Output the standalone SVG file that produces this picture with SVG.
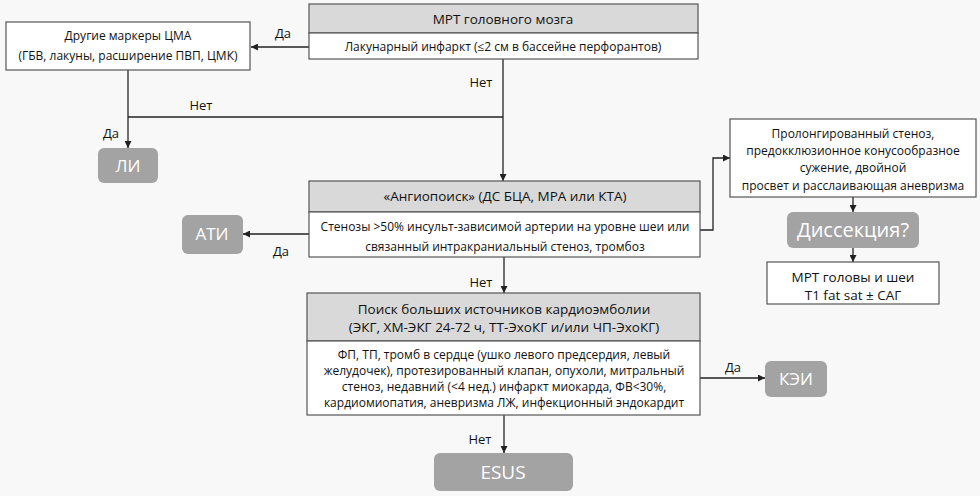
<svg xmlns="http://www.w3.org/2000/svg" width="980" height="496" viewBox="0 0 980 496">
<defs>
<marker id="ah" viewBox="0 0 10 10" refX="10" refY="5" markerWidth="7" markerHeight="7" markerUnits="userSpaceOnUse" orient="auto"><path d="M0,0 L10,5 L0,10 Z" fill="#222"/></marker>
<style>
.bx{fill:#fff;stroke:#555;stroke-width:1.2}
.hd{fill:#d9d9d9;stroke:#555;stroke-width:1.2}
.rs{fill:#a3a3a3;stroke:none}
.t{font-family:"Open Sans","Liberation Sans",sans-serif;font-size:12px;fill:#111;text-anchor:middle}
.th{font-family:"Open Sans","Liberation Sans",sans-serif;font-size:13.5px;fill:#111;text-anchor:middle}
.tr{font-family:"Open Sans","Liberation Sans",sans-serif;font-size:17px;fill:#fff;text-anchor:middle}
.lb{font-family:"Open Sans","Liberation Sans",sans-serif;font-size:13px;fill:#111;text-anchor:middle}
.ln{fill:none;stroke:#222;stroke-width:1.3}
</style>
</defs>
<rect width="980" height="496" fill="#f8f8f8"/>
<g id="connectors">
<path class="ln" d="M309,47 H251" marker-end="url(#ah)"/>
<path class="ln" d="M503,59 V181" marker-end="url(#ah)"/>
<path class="ln" d="M128,117 H503"/>
<path class="ln" d="M128,70 V148" marker-end="url(#ah)"/>
<path class="ln" d="M309,234 H243" marker-end="url(#ah)"/>
<path class="ln" d="M700,230 H713 V158 H730" marker-end="url(#ah)"/>
<path class="ln" d="M853,197 V212" marker-end="url(#ah)"/>
<path class="ln" d="M853,248 V262" marker-end="url(#ah)"/>
<path class="ln" d="M504,257 V293" marker-end="url(#ah)"/>
<path class="ln" d="M504,415 V453" marker-end="url(#ah)"/>
<path class="ln" d="M700,378 H765" marker-end="url(#ah)"/>
<text class="lb" x="283" y="38">Да</text>
<text class="lb" x="481" y="87">Нет</text>
<text class="lb" x="201" y="110">Нет</text>
<text class="lb" x="111" y="138">Да</text>
<text class="lb" x="281" y="256">Да</text>
<text class="lb" x="481" y="287">Нет</text>
<text class="lb" x="480" y="444">Нет</text>
<text class="lb" x="733" y="372">Да</text>
</g>
<g id="mri">
<rect class="hd" x="309" y="4" width="389" height="29"/>
<rect class="bx" x="309" y="33" width="389" height="26"/>
<text class="th" x="503" y="24">МРТ головного мозга</text>
<text class="t" x="503" y="51">Лакунарный инфаркт (≤2 см в бассейне перфорантов)</text>
</g>
<g id="markers">
<rect class="bx" x="6" y="22" width="244" height="48"/>
<text class="t" x="128" y="40">Другие маркеры ЦМА</text>
<text class="t" x="128" y="60">(ГБВ, лакуны, расширение ПВП, ЦМК)</text>
</g>
<g id="li">
<rect class="rs" x="98" y="148" width="60" height="35" rx="6"/>
<text class="tr" x="128" y="172">ЛИ</text>
</g>
<g id="angio">
<rect class="hd" x="309" y="181" width="391" height="31"/>
<rect class="bx" x="309" y="212" width="391" height="45"/>
<text class="th" x="505" y="201">«Ангиопоиск» (ДС БЦА, МРА или КТА)</text>
<text class="t" x="505" y="231">Стенозы &gt;50% инсульт-зависимой артерии на уровне шеи или</text>
<text class="t" x="505" y="251">связанный интракраниальный стеноз, тромбоз</text>
</g>
<g id="ati">
<rect class="rs" x="182" y="215" width="61" height="39" rx="6"/>
<text class="tr" x="212" y="240">АТИ</text>
</g>
<g id="dissinfo">
<rect class="bx" x="730" y="119" width="246" height="78"/>
<text class="t" x="853" y="138">Пролонгированный стеноз,</text>
<text class="t" x="853" y="155">предокклюзионное конусообразное</text>
<text class="t" x="853" y="172">сужение, двойной</text>
<text class="t" x="853" y="190">просвет и расслаивающая аневризма</text>
</g>
<g id="dissection">
<rect class="rs" x="787" y="212" width="132" height="36" rx="6"/>
<text class="tr" x="853" y="237" style="font-size:20px">Диссекция?</text>
</g>
<g id="mrineck">
<rect class="bx" x="767" y="262" width="172" height="42"/>
<text class="th" x="853" y="282">МРТ головы и шеи</text>
<text class="th" x="853" y="300">T1 fat sat ± САГ</text>
</g>
<g id="cardio">
<rect class="hd" x="307" y="293" width="393" height="48"/>
<rect class="bx" x="307" y="341" width="393" height="74"/>
<text class="th" x="504" y="314">Поиск больших источников кардиоэмболии</text>
<text class="th" x="504" y="332">(ЭКГ, ХМ-ЭКГ 24-72 ч, ТТ-ЭхоКГ и/или ЧП-ЭхоКГ)</text>
<text class="t" x="504" y="359">ФП, ТП, тромб в сердце (ушко левого предсердия, левый</text>
<text class="t" x="504" y="375">желудочек), протезированный клапан, опухоли, митральный</text>
<text class="t" x="504" y="391">стеноз, недавний (&lt;4 нед.) инфаркт миокарда, ФВ&lt;30%,</text>
<text class="t" x="504" y="407">кардиомиопатия, аневризма ЛЖ, инфекционный эндокардит</text>
</g>
<g id="kei">
<rect class="rs" x="765" y="361" width="62" height="36" rx="6"/>
<text class="tr" x="796" y="385">КЭИ</text>
</g>
<g id="esus">
<rect class="rs" x="434" y="453" width="139" height="38" rx="6"/>
<text class="tr" x="503" y="479" style="font-size:19px">ESUS</text>
</g>
</svg>
